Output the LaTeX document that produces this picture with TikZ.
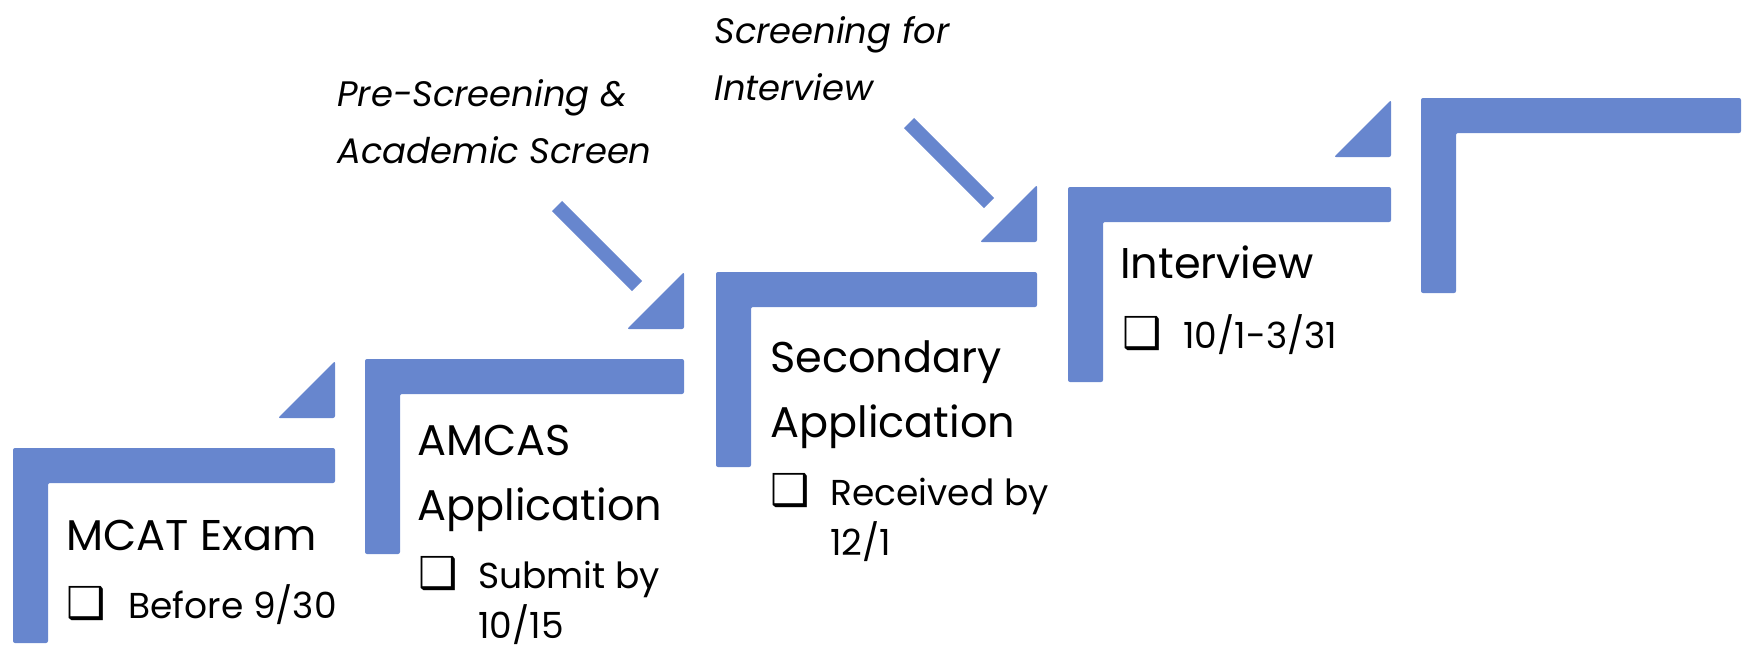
\documentclass[tikz,border=0pt]{standalone}
\usepackage{fontspec}
\setmainfont{Poppins}
\newfontfamily\boxfont{DejaVu Sans}
\usetikzlibrary{positioning}
\definecolor{stepblue}{RGB}{103,134,206}

\begin{document}
\begin{tikzpicture}[x=0.5pt,y=-0.5pt]
	\useasboundingbox (0,0) rectangle (1743,649);
	% stair steps
	\begin{scope}[fill=stepblue, rounded corners=1pt]
		\foreach \x/\t/\r in {13/448/335, 365/359/684, 716/272/1037, 1068/187/1391, 1421/98/1741}
			\fill (\x,\t+195) -- (\x,\t) -- (\r,\t) -- (\r,\t+35) -- (\x+35,\t+35) -- (\x+35,\t+195) -- cycle;
		% corner triangles
		\foreach \t/\r in {448/335, 359/684, 272/1037, 187/1391}
			\fill (\r-57,\t-30) -- (\r,\t-30) -- (\r,\t-87) -- cycle;
	\end{scope}
	% screening bars
	\begin{scope}[line width=7.2pt, draw=stepblue]
		\coordinate (pretop) at (557,206);
		\coordinate (preend) at (637,286);
		\coordinate (inttop) at (909,123);
		\coordinate (intend) at (989,203);
		\draw (pretop) -- (preend);
		\draw (inttop) -- (intend);
	\end{scope}
	\begin{scope}[every node/.style={inner sep=0pt, anchor=base west, align=left},
		heading/.style={font=\fontsize{21.5}{32.5}\selectfont},
		duedate/.style={font=\fontsize{18}{25}\selectfont},
		checkbox/.style={font=\boxfont\fontsize{22}{24}\selectfont},
		screenlabel/.style={font=\itshape\fontsize{17.7}{28.5}\selectfont}]
		% base of a two-line node is its last line
		\node[screenlabel] (prescreen) at (337,163) {Pre-Screening \&\\Academic Screen};
		\node[screenlabel] (intscreen) at (714,100) {Screening for\\Interview};

		\node[heading] (mcat) at (66,550) {MCAT Exam};
		\node[checkbox] (mcatbox) at (66,618) {❑};
		\node[duedate] (mcatdate) at (128,618) {Before 9/30};

		\node[heading] (amcas) at (417,520) {AMCAS\\Application};
		\node[checkbox] (amcasbox) at (418,588) {❑};
		\node[duedate] (amcasdate) at (478,638) {Submit by\\10/15};

		\node[heading] (second) at (770,437) {Secondary\\Application};
		\node[checkbox] (secondbox) at (770,505) {❑};
		\node[duedate] (seconddate) at (830,555) {Received by\\12/1};

		\node[heading] (interview) at (1120,278) {Interview};
		\node[checkbox] (interviewbox) at (1122,348) {❑};
		\node[duedate] (interviewdate) at (1183,348) {10/1-3/31};
	\end{scope}
\end{tikzpicture}
\end{document}
